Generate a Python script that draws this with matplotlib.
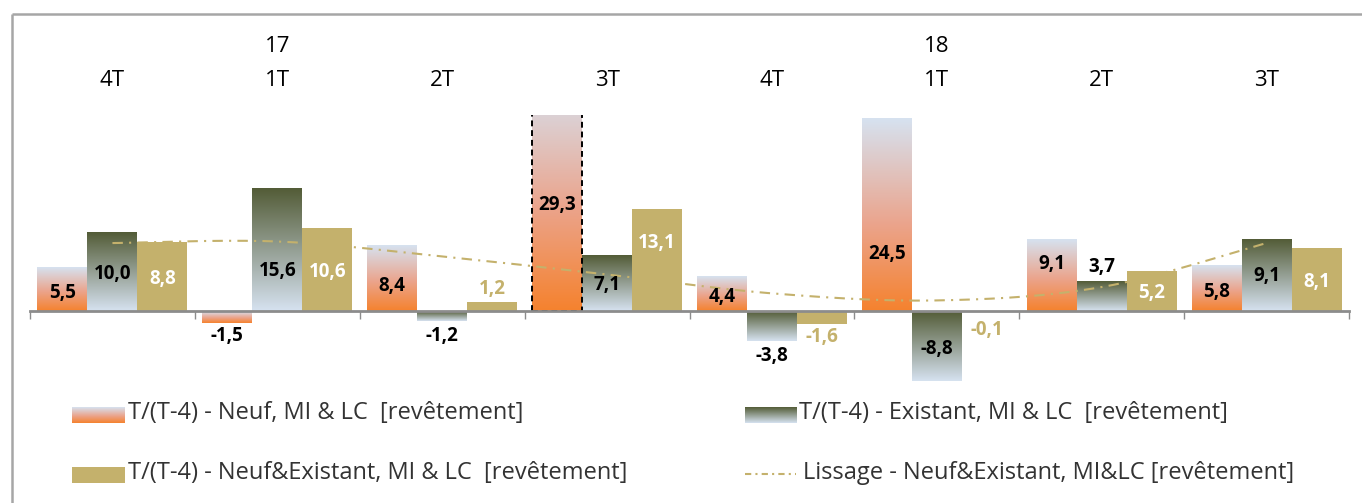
import numpy as np
import matplotlib
matplotlib.use('Agg')
import matplotlib.pyplot as plt
from matplotlib.colors import to_rgb
from matplotlib.patches import Rectangle

# ---------------- data ----------------
quarters = ['4T', '1T', '2T', '3T', '4T', '1T', '2T', '3T']
years = ['17', '18']
year_idx = [1, 5]
neuf = [5.5, -1.5, 8.4, 29.3, 4.4, 24.5, 9.1, 5.8]
existant = [10.0, 15.6, -1.2, 7.1, -3.8, -8.8, 3.7, 9.1]
neuf_exist = [8.8, 10.6, 1.2, 13.1, -1.6, -0.1, 5.2, 8.1]
lissage = [8.7, 8.9, 7.0, 4.7, 2.3, 1.4, 3.1, 8.7]

legend_labels = ['T/(T-4) - Neuf, MI & LC  [revêtement]',
                 'T/(T-4) - Existant, MI & LC  [revêtement]',
                 'T/(T-4) - Neuf&Existant, MI & LC  [revêtement]',
                 'Lissage - Neuf&Existant, MI&LC [revêtement]']

# label anchor heights (layout, data units)
neuf_lab_y = [2.4, -3.1, 3.2, 13.6, 1.8, 7.3, 6.1, 2.5]
exist_lab_y = [4.8, 5.2, -3.1, 3.4, -5.7, -4.8, 5.7, 4.5]
ne_lab_y = [4.1, 5.0, 2.9, 8.7, -3.3, -2.4, 2.4, 3.7]

# ---------------- style ----------------
plt.rcParams['font.family'] = ['Open Sans', 'DejaVu Sans']
ORANGE = '#f5822e'
SALMON = '#eba48c'
LIGHTBLUE = '#d6e2f0'
OLIVE = '#535c37'
KHAKI = '#c4b16c'
GRAY = '#8c8c8c'

W, H = 1362, 503
fig = plt.figure(figsize=(W / 100, H / 100), dpi=100)
ax = fig.add_axes([30 / W, 113 / H, 1319 / W, 275 / H])
ax.set_xlim(-0.5, 7.5)
ax.set_ylim(-10, 25)


def gradient_img(stops, n=256):
    t = np.linspace(0, 1, n)
    pos = [s[0] for s in stops]
    cols = np.array([to_rgb(s[1]) for s in stops])
    img = np.stack([np.interp(t, pos, cols[:, k]) for k in range(3)], axis=1)
    return img[:, None, :]


neuf_stops = [(0.0, ORANGE), (0.45, SALMON), (1.0, LIGHTBLUE)]
exist_stops = [(0.0, LIGHTBLUE), (1.0, OLIVE)]


def fill_gradient(axis, rect, stops):
    x0, w = rect.get_x(), rect.get_width()
    y0, h = rect.get_y(), rect.get_height()
    ylo, yhi = min(y0, y0 + h), max(y0, y0 + h)
    axis.imshow(gradient_img(stops), extent=[x0, x0 + w, ylo, yhi],
                origin='lower', aspect='auto', interpolation='bilinear', zorder=2)


x = np.arange(len(quarters))
bw = 50 / 165

bars_n = ax.bar(x - bw, neuf, bw, color='none', edgecolor='none')
bars_e = ax.bar(x, existant, bw, color='none', edgecolor='none')
bars_ne = ax.bar(x + bw, neuf_exist, bw, color=KHAKI, edgecolor='none', zorder=2)

ymax = 25
for r, v in zip(bars_n, neuf):
    fill_gradient(ax, r, neuf_stops)
    if v > ymax:
        ax.add_patch(Rectangle((r.get_x(), r.get_y()), r.get_width(), r.get_height(),
                               fill=False, edgecolor='black', linestyle=(0, (3, 2)),
                               linewidth=1.4, zorder=3))
for r in bars_e:
    fill_gradient(ax, r, exist_stops)

ax.set_xlim(-0.5, 7.5)
ax.set_ylim(-10, 25)


# smoothed line (Excel style bezier smoothing through the points)
def smooth(xs, ys, n=40):
    P = np.column_stack([xs, ys]).astype(float)
    out = []
    for i in range(len(P) - 1):
        p0 = P[i - 1] if i > 0 else P[i]
        p1, p2 = P[i], P[i + 1]
        p3 = P[i + 2] if i + 2 < len(P) else P[i + 1]
        c1 = p1 + (p2 - p0) / 6
        c2 = p2 - (p3 - p1) / 6
        t = np.linspace(0, 1, n)[:, None]
        seg = ((1 - t) ** 3) * p1 + 3 * ((1 - t) ** 2) * t * c1 + 3 * (1 - t) * t ** 2 * c2 + t ** 3 * p2
        out.append(seg if i == 0 else seg[1:])
    return np.vstack(out)


sm = smooth(x, lissage)
ax.plot(sm[:, 0], sm[:, 1], color=KHAKI, lw=1.5, linestyle=(0, (5, 3, 1, 3)), zorder=4)

# data labels
LFS = 13.5
for xi, v, ly in zip(x, neuf, neuf_lab_y):
    ax.text(xi - bw, ly, f'{v:.1f}'.replace('.', ','), ha='center', va='center',
            fontsize=LFS, fontweight='bold', color='black', zorder=6)
for xi, v, ly in zip(x, existant, exist_lab_y):
    ax.text(xi, ly, f'{v:.1f}'.replace('.', ','), ha='center', va='center',
            fontsize=LFS, fontweight='bold', color='black', zorder=6)
for xi, v, ly in zip(x, neuf_exist, ne_lab_y):
    inside = (ly > 0 and ly < v)
    ax.text(xi + bw, ly, f'{v:.1f}'.replace('.', ','), ha='center', va='center',
            fontsize=LFS, fontweight='bold', color='white' if inside else KHAKI, zorder=6)

# axes styling
for s in ['top', 'right', 'left']:
    ax.spines[s].set_visible(False)
ax.spines['bottom'].set_position(('data', 0))
ax.spines['bottom'].set_color(GRAY)
ax.spines['bottom'].set_linewidth(2)
ax.spines['bottom'].set_zorder(5)
ax.set_xticks(np.arange(-0.5, len(quarters), 1))
ax.tick_params(axis='x', length=6, width=1, color=GRAY, labelbottom=False, direction='out')
ax.set_yticks([])
ax.patch.set_alpha(0)

# category labels on top
xt = ax.get_xaxis_transform()
for xi, q in zip(x, quarters):
    ax.text(xi, 1.127, q, transform=xt, ha='center', va='center', fontsize=16, color='black')
for yi, yl in zip(year_idx, years):
    ax.text(yi, 1.25, yl, transform=xt, ha='center', va='center', fontsize=16, color='black')

# overlay: frame + legend (pixel coordinates)
ov = fig.add_axes([0, 0, 1, 1], zorder=-1)
ov.axis('off')
ov.plot([12, 12], [14, H], color='#a6a6a6', lw=1.8, solid_capstyle='butt')
ov.plot([12, W], [14, 14], color='#a6a6a6', lw=1.8, solid_capstyle='butt')

ov.imshow(gradient_img(neuf_stops), extent=[72, 125, 423, 407], origin='lower', aspect='auto')
ov.imshow(gradient_img(exist_stops), extent=[745, 797, 423, 407], origin='lower', aspect='auto')
ov.add_patch(Rectangle((72, 467), 53, 16, color=KHAKI, lw=0))
ov.plot([745, 796], [474, 474], color=KHAKI, lw=1.5, linestyle=(0, (3, 2, 1, 2)))
leg_pos = [(128, 413), (799, 413), (128, 473), (803, 473)]
for (lx, ly), lab in zip(leg_pos, legend_labels):
    ov.text(lx, ly, lab, ha='left', va='center', fontsize=17, color='#333333')
ov.set_xlim(0, W)
ov.set_ylim(H, 0)

fig.savefig('out.png', dpi=100)
